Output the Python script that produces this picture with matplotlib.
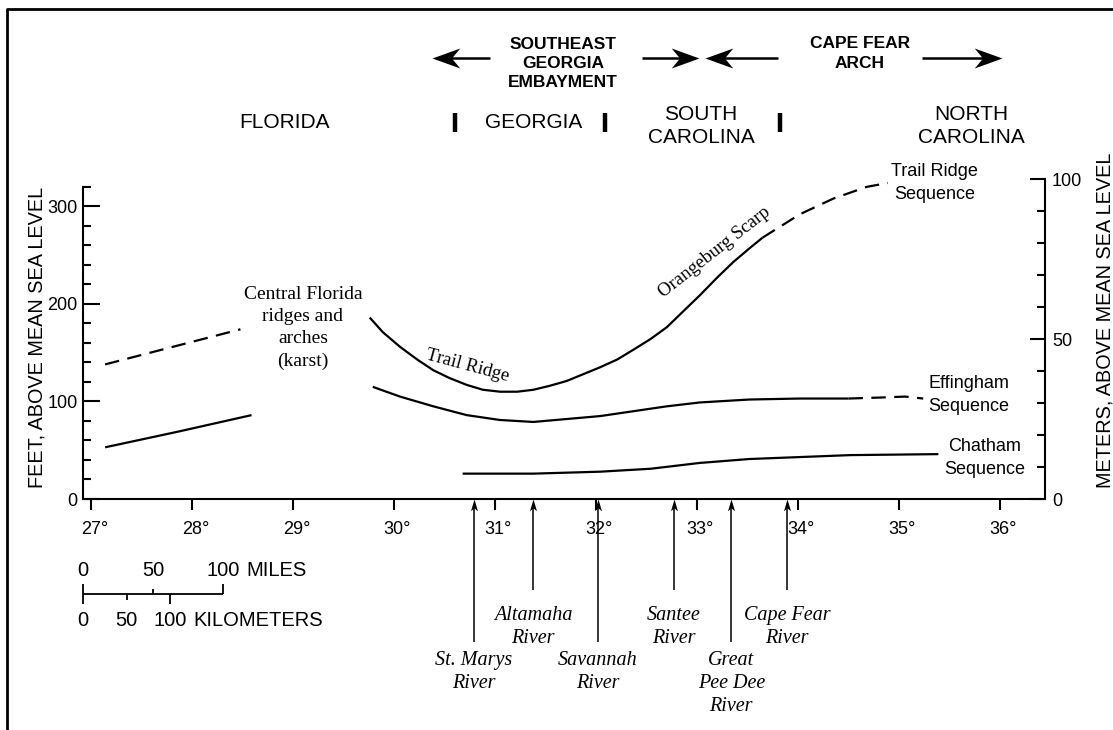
import matplotlib
matplotlib.use("Agg")
import matplotlib.pyplot as plt
from matplotlib.lines import Line2D
from matplotlib.markers import MarkerStyle
from matplotlib.path import Path
from matplotlib.transforms import Affine2D, ScaledTranslation, offset_copy
import numpy as np

# --- profiles: latitude (degrees N) vs elevation (feet above mean sea level)
florida_low_lat = [27.14, 27.86, 28.59]
florida_low_ft = [53, 69, 86]
florida_high_lat = [27.14, 27.81, 28.48]
florida_high_ft = [138, 156, 174]

trail_ridge_lat = [29.76, 29.89, 30.06, 30.23, 30.39, 30.55, 30.72, 30.88, 31.05,
                   31.22, 31.38, 31.54, 31.71, 32.04, 32.21, 32.37, 32.54, 32.70,
                   32.86, 33.03, 33.20, 33.36, 33.52, 33.65]
trail_ridge_ft = [186, 171, 156, 143, 132, 124, 117, 112, 110,
                  110, 112, 116, 121, 135, 143, 153, 164, 176,
                  192, 209, 227, 243, 257, 268]
trail_ridge_ext_lat = [33.65, 34.02, 34.35, 34.68, 34.89]
trail_ridge_ext_ft = [268, 292, 308, 320, 324]

effingham_lat = [29.79, 30.06, 30.39, 30.72, 31.05, 31.38, 31.71, 32.04, 32.37,
                 32.70, 33.03, 33.52, 34.02, 34.50]
effingham_ft = [115, 105, 95, 86, 81, 79, 82, 85, 90, 95, 99, 102, 103, 103]
effingham_ext_lat = [34.50, 34.81, 35.06, 35.24]
effingham_ext_ft = [103, 104, 105, 103]

chatham_lat = [30.68, 31.05, 31.38, 31.71, 32.04, 32.54, 33.03, 33.52, 34.02,
               34.52, 35.39]
chatham_ft = [26, 26, 26, 27, 28, 31, 37, 41, 43, 45, 46]

# rivers crossing the profile
river_names = ["St. Marys\nRiver", "Altamaha\nRiver", "Savannah\nRiver",
               "Santee\nRiver", "Great\nPee Dee\nRiver", "Cape Fear\nRiver"]
river_lat = [30.79, 31.38, 32.02, 32.77, 33.34, 33.89]
river_row = [1, 0, 1, 0, 1, 0]

state_names = ["FLORIDA", "GEORGIA", "SOUTH\nCAROLINA", "NORTH\nCAROLINA"]
state_lat = [28.92, 31.38, 33.04, 35.72]
state_border_lat = [30.60, 32.09, 33.82]

lat_ticks = list(range(27, 37))
feet_ticks = [0, 100, 200, 300]
meter_ticks = [0, 50, 100]
scale_miles = [0, 50, 100]
scale_km = [0, 50, 100]

FT_PER_M = 1 / 0.3048
KM_PER_MILE = 1.609344
MILES_PER_DEG = 72.0

SERIF = "Liberation Serif"
plt.rcParams["font.family"] = "Liberation Sans"

W, H = 1113, 730
fig = plt.figure(figsize=(W / 100, H / 100), dpi=100)
ax = fig.add_axes([83 / W, 1 - 499 / H, 962 / W, 320 / H])
ax.set_xlim(26.921, 36.446)
ax.set_ylim(0, 100 * FT_PER_M)

LW = 1.6
for lat, ft in [(florida_low_lat, florida_low_ft), (trail_ridge_lat, trail_ridge_ft),
                (effingham_lat, effingham_ft), (chatham_lat, chatham_ft)]:
    ax.plot(lat, ft, color="black", lw=LW, solid_capstyle="butt", solid_joinstyle="round")
for lat, ft in [(florida_high_lat, florida_high_ft), (trail_ridge_ext_lat, trail_ridge_ext_ft),
                (effingham_ext_lat, effingham_ext_ft)]:
    ax.plot(lat, ft, color="black", lw=LW, dashes=(6.5, 3.8), dash_capstyle="butt")

# axes: feet on the left, meters on the right
ax2 = ax.twinx()
ax2.set_ylim(0, 100)
for s in ["top", "right"]:
    ax.spines[s].set_visible(False)
for s in ["top", "left", "bottom"]:
    ax2.spines[s].set_visible(False)
ax.spines["left"].set_bounds(0, 320)
ax2.spines["right"].set_bounds(0, 100)
for sp in [ax.spines["left"], ax.spines["bottom"], ax2.spines["right"]]:
    sp.set_linewidth(1.5)

ax.set_xticks(lat_ticks, labels=[f"{d}°" for d in lat_ticks])
ax.tick_params(axis="x", direction="out", length=8, width=1.5, pad=8, labelsize=13)
for lbl in ax.get_xticklabels():
    lbl.set_transform(lbl.get_transform() + ScaledTranslation(2.5 / 72, 0, fig.dpi_scale_trans))

ax.set_yticks(feet_ticks)
ax.set_yticks(np.arange(0, 321, 20), minor=True)
ax.tick_params(axis="y", which="major", direction="in", length=12, width=1.5, pad=4, labelsize=13)
ax.tick_params(axis="y", which="minor", direction="in", length=6, width=1.5)

ax2.set_yticks(meter_ticks)
ax2.set_yticks(np.arange(0, 101, 10), minor=True)
ax2.tick_params(axis="y", which="major", direction="in", length=11, width=1.5, pad=5, labelsize=13)
ax2.tick_params(axis="y", which="minor", direction="in", length=6, width=1.5)

ax.text(-0.0478, 0.506, "FEET, ABOVE MEAN SEA LEVEL", transform=ax.transAxes, rotation=90,
        ha="center", va="center", fontsize=14.3)
ax.text(1.0624, 0.559, "METERS, ABOVE MEAN SEA LEVEL", transform=ax.transAxes, rotation=90,
        ha="center", va="center", fontsize=14.3)

# stealth arrowhead, tip at the origin pointing +x
STEALTH = Path([(0, 0), (-1, 0.36), (-0.7, 0), (-1, -0.36), (0, 0)],
               [Path.MOVETO, Path.LINETO, Path.LINETO, Path.LINETO, Path.CLOSEPOLY])
RIVER_HEAD = Path([(0, 0), (-1, 0.3), (-0.75, 0), (-1, -0.3), (0, 0)],
                  [Path.MOVETO, Path.LINETO, Path.LINETO, Path.LINETO, Path.CLOSEPOLY])


def head(x, y, path, angle, size):
    ax.plot([x], [y], marker=MarkerStyle(path, transform=Affine2D().rotate_deg(angle)),
            ms=size, mew=0, color="black", clip_on=False)


def h_arrow(x_tail, x_tip, y):
    step = 0.12 if x_tip > x_tail else -0.12
    ax.plot([x_tail, x_tip - step], [y, y], color="black", lw=1.8,
            solid_capstyle="butt", clip_on=False)
    head(x_tip, y, STEALTH, 0 if x_tip > x_tail else 180, 40)


ARROW_Y = 451.8
h_arrow(30.95, 30.38, ARROW_Y)
h_arrow(32.455, 33.02, ARROW_Y)
h_arrow(33.80, 33.08, ARROW_Y)
h_arrow(35.23, 36.02, ARROW_Y)

ax.text(31.673, 446.4, "SOUTHEAST\nGEORGIA\nEMBAYMENT", ha="center", va="center",
        fontweight="bold", fontsize=12.5, linespacing=1.36)
ax.text(34.614, 456.7, "CAPE FEAR\nARCH", ha="center", va="center",
        fontweight="bold", fontsize=12.5, linespacing=1.36)

for name, lat in zip(state_names, state_lat):
    ax.text(lat, 382.4 if "\n" in name else 386.5, name, ha="center", va="center",
            fontsize=15, linespacing=1.22)
ax.vlines(state_border_lat, 376, 396, color="black", lw=3.2, clip_on=False)

# sequence names
seq_kw = dict(ha="center", va="center", fontsize=13, linespacing=1.49)
ax.text(35.356, 324.0, "Trail Ridge\nSequence", **seq_kw)
ax.text(35.693, 106.6, "Effingham\nSequence", **seq_kw)
ax.text(35.851, 42.0, "Chatham\nSequence", **seq_kw)

ax.text(29.099, 175.2, "Central Florida\nridges and\narches\n(karst)", ha="center", va="center",
        family=SERIF, fontsize=14, linespacing=1.39)
ax.text(30.713, 132.3, "Trail Ridge", rotation=-15, rotation_mode="anchor",
        ha="center", va="baseline", family=SERIF, fontsize=13.5)
ax.text(33.203, 249.1, "Orangeburg Scarp", rotation=38, rotation_mode="anchor",
        ha="center", va="baseline", family=SERIF, fontsize=13.5)

# river arrows below the latitude axis
tail_ft = [-93.3, -146.6]
label_top_ft = [-109.7, -155.8]
for name, lat, row in zip(river_names, river_lat, river_row):
    ax.plot([lat, lat], [tail_ft[row], -6], color="black", lw=1.1,
            solid_capstyle="butt", clip_on=False)
    head(lat, 0, RIVER_HEAD, 90, 17)
    ax.text(lat, label_top_ft[row], name, ha="center", va="top", family=SERIF,
            style="italic", fontsize=14.5, linespacing=1.27)

# scale bar
x0 = ax.get_xlim()[0]
bar_y = -97.4


def mi_x(miles):
    return x0 + miles / MILES_PER_DEG


sb = dict(color="black", lw=1.3, clip_on=False, solid_capstyle="butt")
ax.plot([mi_x(scale_miles[0]), mi_x(scale_miles[-1])], [bar_y, bar_y], **sb)
for m in scale_miles:
    up = 5 if m == 50 else 10
    down = 10 if m == 0 else 0
    ax.plot([mi_x(m), mi_x(m)], [bar_y - down, bar_y + up], **sb)
    ax.text(mi_x(m), -73.8, str(m), ha="center", va="center", fontsize=14.5)
for k in scale_km[1:]:
    xk = mi_x(k / KM_PER_MILE)
    ax.plot([xk, xk], [bar_y - (6 if k == 50 else 10), bar_y], **sb)
for k in scale_km:
    ax.text(mi_x(k / KM_PER_MILE), -124.1, str(k), ha="center", va="center", fontsize=14.5)
ax.text(mi_x(scale_miles[-1]), -73.8, "MILES", ha="left", va="center", fontsize=14.5,
        transform=offset_copy(ax.transData, fig, x=16.5, units="points"))
ax.text(mi_x(scale_km[-1] / KM_PER_MILE), -124.1, "KILOMETERS", ha="left", va="center",
        fontsize=14.5, transform=offset_copy(ax.transData, fig, x=16.5, units="points"))

# frame
fig.add_artist(Line2D([7 / W, 7 / W, 1.0], [0, 1 - 9 / H, 1 - 9 / H],
                      transform=fig.transFigure, color="black", lw=2))

fig.savefig("out.png", dpi=100)
